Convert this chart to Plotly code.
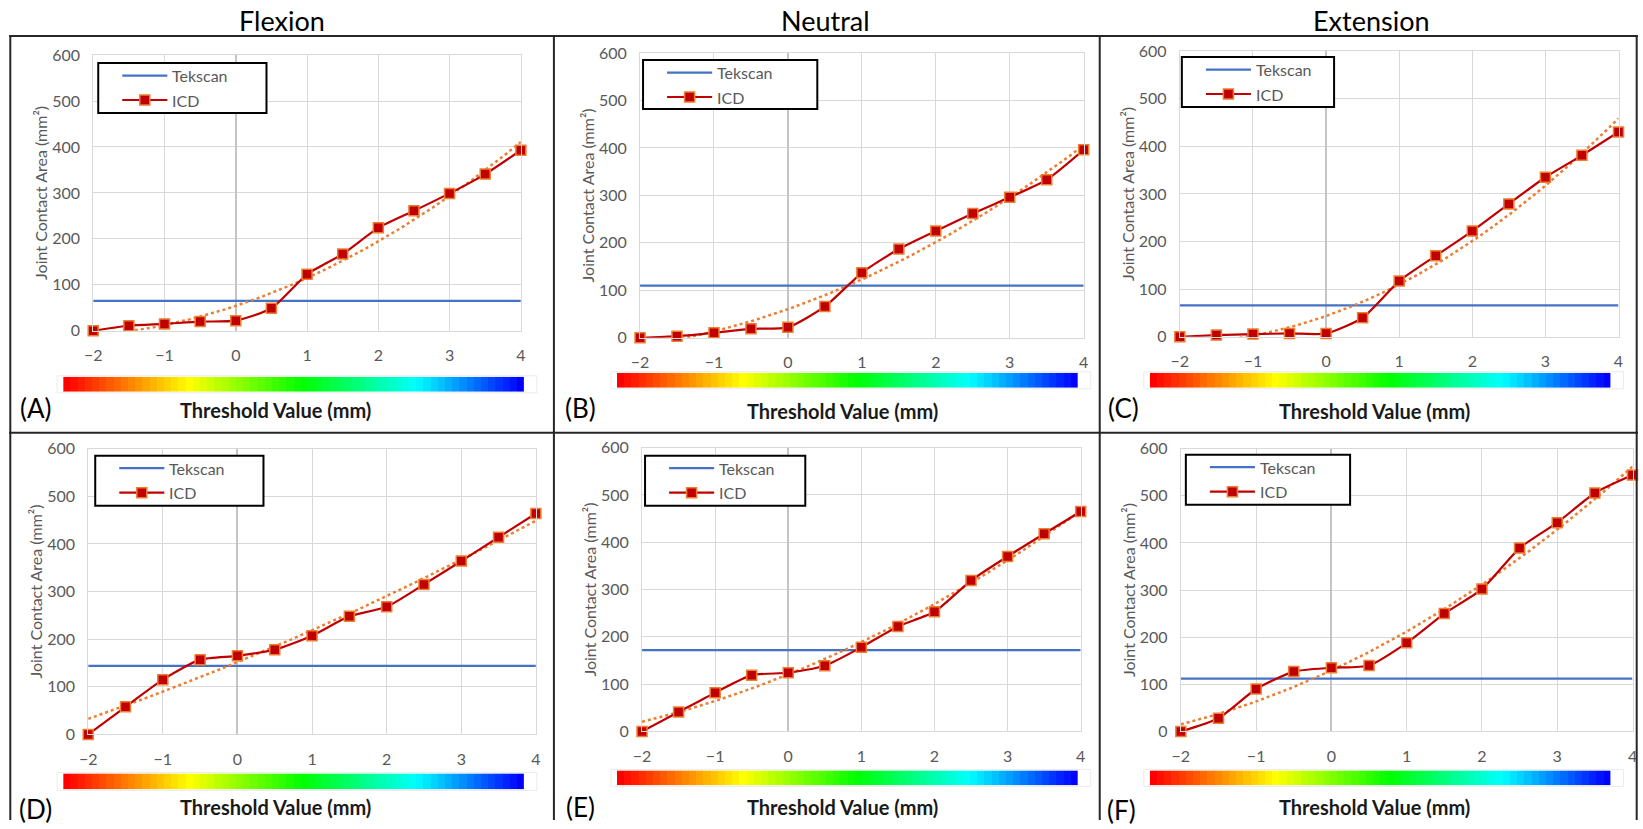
import numpy as np
import plotly.graph_objects as go

W, H = 1643, 829
FONT = "Lato"

# ---------------- data ----------------
thresholds = [-2, -1.5, -1, -0.5, 0, 0.5, 1, 1.5, 2, 2.5, 3, 3.5, 4]

icd_flexion_top = [0, 11, 15, 20, 22, 49, 123, 167, 224, 261, 299, 341, 393]
icd_neutral_top = [0, 3.5, 10.5, 19, 22, 66, 137, 187, 225, 262, 296, 333, 396]
icd_extension_top = [0, 3.5, 5.6, 7, 7, 40, 117, 170, 222, 279, 335, 381, 430]
icd_flexion_bottom = [0, 58, 115, 157, 165, 178, 207, 248, 268, 315, 364, 414, 464]
icd_neutral_bottom = [0, 41, 82, 119, 124, 139, 178, 222, 253, 319, 370, 418, 465]
icd_extension_bottom = [0, 28, 90, 127, 135, 140, 188, 250, 302, 389, 443, 506, 544]

tekscan_values = [65, 110, 66, 144, 172, 112]
panel_letters = ["(A)", "(B)", "(C)", "(D)", "(E)", "(F)"]
column_titles = ["Flexion", "Neutral", "Extension"]
legend_names = ["Tekscan", "ICD"]
x_title = "Threshold Value (mm)"
y_title = "Joint Contact Area (mm²)"
colorbar_steps = list(range(64))

icd_series = [icd_flexion_top, icd_neutral_top, icd_extension_top,
              icd_flexion_bottom, icd_neutral_bottom, icd_extension_bottom]

# ---------------- layout geometry (target pixels in the picture) ----------------
plot_px = [
    (93, 520, 55, 331),
    (639, 1082, 53, 338),
    (1178, 1616, 51, 337),
    (88, 535, 449, 735),
    (641, 1079, 448, 732),
    (1179, 1630, 449, 732),
]
cbar_px = [
    (63, 523, 377, 392),
    (616, 1076, 373, 388),
    (1148, 1608, 373, 388),
    (63, 523, 774, 790),
    (616, 1076, 771, 786),
    (1148, 1608, 771, 786),
]
legend_box_px = [(98, 63, 266, 113), (642, 60, 816, 109), (1180, 57, 1332, 107),
                 (95, 456, 263, 506), (644, 456, 804, 506), (1184, 455, 1348, 505)]
xlabel_px = [(275, 410), (841, 411), (1372, 411), (275, 808), (841, 808), (1372, 808)]
letter_px = [(36, 408), (580, 408), (1122, 408), (35, 810), (580, 808), (1120, 811)]
title_px = [(281, 20), (824, 20), (1369, 20)]

# the photographed page shows the figure slightly inset; map picture px -> paper
OX, OY, SX, SY = 8.9, 9.9, 0.990, 0.978


def px(x):
    return min(max((x - OX) / SX / W, 0.0), 1.0)


def py(y):
    return min(max(1 - (y - OY) / SY / H, 0.0), 1.0)


fig = go.Figure()

rainbow = [[0.0, "#FF0000"], [0.27, "#FFFF00"], [0.52, "#00FF00"],
           [0.77, "#00FFFF"], [1.0, "#0000FF"]]

layout = dict(
    width=W, height=H,
    margin=dict(l=0, r=0, t=0, b=0),
    paper_bgcolor="white", plot_bgcolor="white",
    font=dict(family=FONT, color="#595959"),
    showlegend=False,
)

shapes = []
annotations = []

BLUE = "#4472C4"
RED = "#C00000"
ORANGE = "#ED7D31"

for i in range(6):
    n = i + 1
    xa = "x" if n == 1 else f"x{n}"
    ya = "y" if n == 1 else f"y{n}"
    icd = icd_series[i]

    # trendline (2nd-order polynomial fit of the ICD series)
    coef = np.polyfit(thresholds, icd, 2)
    xs = np.linspace(thresholds[0], thresholds[-1], 121)
    ys = np.polyval(coef, xs)

    fig.add_trace(go.Scatter(
        x=[thresholds[0], thresholds[-1]], y=[tekscan_values[i]] * 2,
        mode="lines", name="Tekscan", line=dict(color=BLUE, width=2.2),
        xaxis=xa, yaxis=ya))
    fig.add_trace(go.Scatter(
        x=xs, y=ys, mode="lines", name="Trend",
        line=dict(color=ORANGE, width=2.5, dash="dot"),
        xaxis=xa, yaxis=ya, hoverinfo="skip"))
    fig.add_trace(go.Scatter(
        x=thresholds, y=icd, mode="lines+markers", name="ICD",
        line=dict(color=RED, width=2.2, shape="spline", smoothing=0.6),
        marker=dict(symbol="square", size=10, color=RED,
                    line=dict(color=ORANGE, width=1.5)),
        cliponaxis=False,
        xaxis=xa, yaxis=ya))

    x0, x1, yt, yb = plot_px[i]
    axis_common = dict(
        showgrid=True, gridcolor="#D9D9D9", gridwidth=1,
        showline=True, mirror=True, linecolor="#D9D9D9", linewidth=1,
        ticks="", tickfont=dict(family=FONT, size=16, color="#595959"),
        fixedrange=True,
    )
    layout["xaxis" if n == 1 else f"xaxis{n}"] = dict(
        axis_common, domain=[px(x0), px(x1)], range=[-2, 4], dtick=1, tick0=0,
        zeroline=True, zerolinecolor="#C4C4C4", zerolinewidth=1.5,
        anchor=ya, ticklabelstandoff=10)
    layout["yaxis" if n == 1 else f"yaxis{n}"] = dict(
        axis_common, domain=[py(yb), py(yt)], range=[0, 600], dtick=100,
        zeroline=False, anchor=xa, ticklabelstandoff=9,
        title=dict(text=y_title, font=dict(family=FONT, size=16, color="#595959"),
                   standoff=0))

    # legend box
    bx0, by0, bx1, by1 = legend_box_px[i]
    shapes.append(dict(type="rect", xref="paper", yref="paper",
                       x0=px(bx0), x1=px(bx1), y0=py(by1), y1=py(by0),
                       fillcolor="white", line=dict(color="#000000", width=2)))
    for k, (name, col) in enumerate(zip(legend_names, [BLUE, RED])):
        ly = by0 + 12.5 + 24.5 * k
        shapes.append(dict(type="line", xref="paper", yref="paper",
                           x0=px(bx0 + 24), x1=px(bx0 + 69), y0=py(ly), y1=py(ly),
                           line=dict(color=col, width=2.2)))
        if name == "ICD":
            shapes.append(dict(type="rect", xref="paper", yref="paper",
                               x0=px(bx0 + 41.5), x1=px(bx0 + 51.5),
                               y0=py(ly + 5), y1=py(ly - 5),
                               fillcolor=RED, line=dict(color=ORANGE, width=1.5)))
        annotations.append(dict(text=name, x=px(bx0 + 72), y=py(ly), xref="paper",
                                yref="paper", showarrow=False, xanchor="left",
                                yanchor="middle",
                                font=dict(family=FONT, size=16, color="#595959")))

    # colour scale bar
    cn = n + 6
    cx0, cx1, cyt, cyb = cbar_px[i]
    fig.add_trace(go.Heatmap(
        z=[colorbar_steps], colorscale=rainbow, showscale=False,
        xaxis=f"x{cn}", yaxis=f"y{cn}", hoverinfo="skip"))
    layout[f"xaxis{cn}"] = dict(domain=[px(cx0), px(cx1)], visible=False,
                                anchor=f"y{cn}", fixedrange=True)
    layout[f"yaxis{cn}"] = dict(domain=[py(cyb), py(cyt)], visible=False,
                                anchor=f"x{cn}", fixedrange=True)
    shapes.append(dict(type="rect", xref="paper", yref="paper",
                       x0=px(cx0 - 6), x1=px(cx1 + 13), y0=py(cyb + 1), y1=py(cyt - 1),
                       line=dict(color="#EBEBEB", width=1), layer="below"))

    ax_, ay_ = xlabel_px[i]
    annotations.append(dict(text=f"<b>{x_title}</b>", x=px(ax_), y=py(ay_),
                            xref="paper", yref="paper", showarrow=False,
                            xanchor="center", yanchor="middle",
                            font=dict(family=FONT, size=20, color="#1A1A1A")))
    lx_, ly_ = letter_px[i]
    annotations.append(dict(text=panel_letters[i], x=px(lx_), y=py(ly_),
                            xref="paper", yref="paper", showarrow=False,
                            xanchor="center", yanchor="middle",
                            font=dict(family=FONT, size=26, color="#000000")))

for t, (tx, ty) in zip(column_titles, title_px):
    annotations.append(dict(text=t, x=px(tx), y=py(ty), xref="paper", yref="paper",
                            showarrow=False, xanchor="center", yanchor="middle",
                            font=dict(family=FONT, size=27, color="#000000")))

# panel borders
border = dict(color="#262626", width=2)
for yv in [36, 433]:
    shapes.append(dict(type="line", xref="paper", yref="paper", x0=px(9), x1=px(1640),
                       y0=py(yv), y1=py(yv), line=border))
for xv in [9, 553, 1098, 1640]:
    xpos = min(max(px(xv), 0.0008), 0.9992)
    shapes.append(dict(type="line", xref="paper", yref="paper", x0=xpos, x1=xpos,
                       y0=py(36), y1=0, line=border))

layout["shapes"] = shapes
layout["annotations"] = annotations
fig.update_layout(**layout)

post = (
    "document.documentElement.style.cssText='margin:0;padding:0;overflow:hidden';"
    "document.body.style.cssText='margin:0;padding:0;overflow:hidden';"
)

fig.write_html("out.html", config={"displayModeBar": False}, post_script=post)
